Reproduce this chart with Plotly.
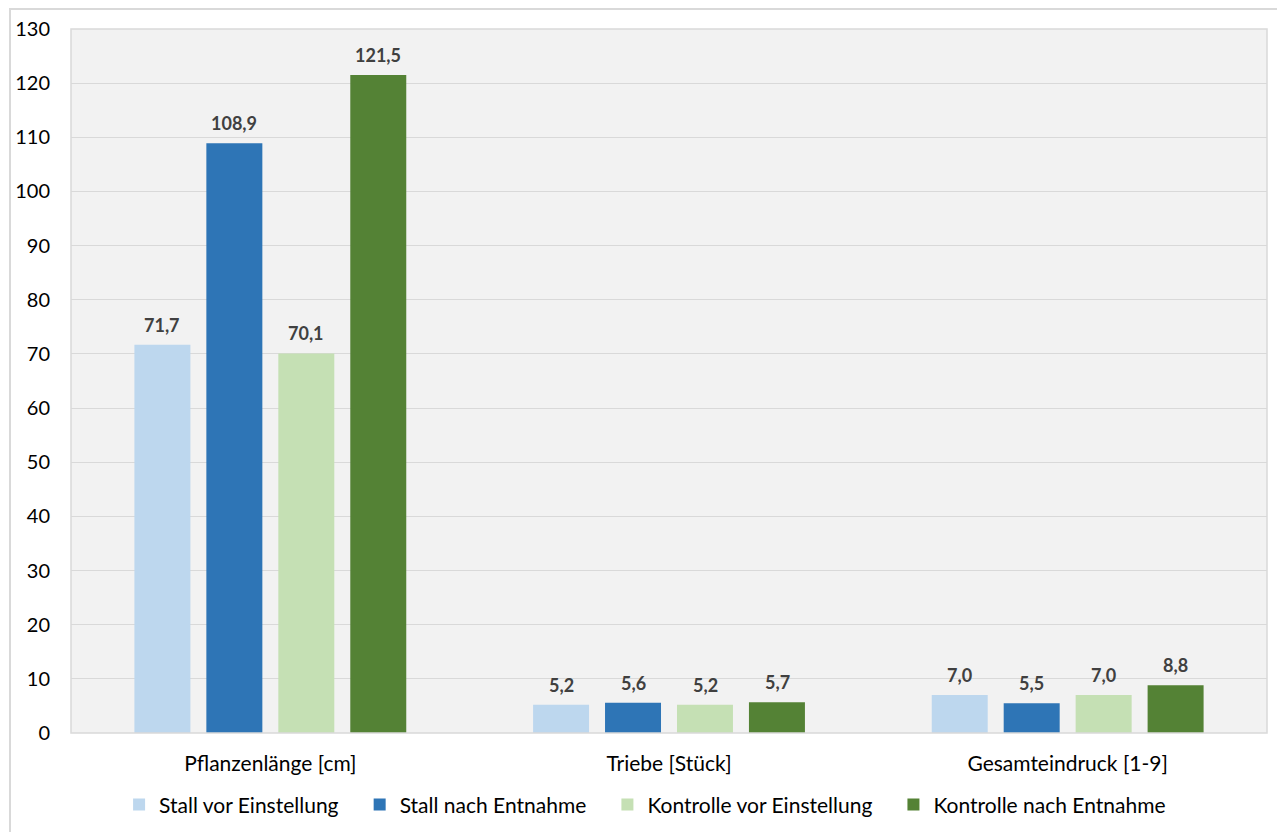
import plotly.graph_objects as go

categories = ["Pflanzenlänge [cm]", "Triebe [Stück]", "Gesamteindruck [1-9]"]
series_names = ["Stall vor Einstellung", "Stall nach Entnahme", "Kontrolle vor Einstellung", "Kontrolle nach Entnahme"]
values = [
    [71.7, 5.2, 7.0],
    [108.9, 5.6, 5.5],
    [70.1, 5.2, 7.0],
    [121.5, 5.7, 8.8],
]
colors = ["#bdd7ee", "#2e75b6", "#c5e0b4", "#548235"]
y_ticks = list(range(0, 131, 10))

PAD = "\u00a0" * 3  # extra spacing between legend entries

fig = go.Figure()
n = len(series_names)
for i, (name, vals, col) in enumerate(zip(series_names, values, colors)):
    fig.add_trace(go.Bar(
        x=categories, y=vals, name=name + (PAD if i < n - 1 else ""),
        marker_color=col, marker_line_width=0, offsetgroup=str(i),
    ))

# data labels via annotations, positioned by the axis scale
for i, vals in enumerate(values):
    for j, (cat, v) in enumerate(zip(categories, vals)):
        fig.add_annotation(
            x=j, y=v, xref="x", yref="y",
            text=f"{v:.1f}".replace(".", ","), showarrow=False,
            xshift=(i - (n - 1) / 2) * 72, yshift=20,
            font=dict(family="Lato", size=18, color="#404040", weight="bold"),
        )

fig.update_layout(
    width=1277, height=824,
    margin=dict(l=63, r=18, t=21, b=99, autoexpand=False),
    paper_bgcolor="white", plot_bgcolor="#f2f2f2",
    barmode="group", bargap=0.278, bargroupgap=0.222,
    font=dict(family="Lato", size=20, color="#000000"),
    showlegend=True,
    legend=dict(orientation="h", x=0.48, xanchor="center", y=-0.073, yanchor="top",
                font=dict(family="Lato", size=21, color="#000000"),
                bgcolor="rgba(0,0,0,0)", traceorder="normal",
                itemwidth=30, tracegroupgap=0),
    xaxis=dict(showgrid=False, ticks="", tickfont=dict(size=21), showline=False,
               automargin=False, ticklabelstandoff=16),
    yaxis=dict(range=[0, 130], tickvals=y_ticks, showgrid=True, gridcolor="#d9d9d9",
               gridwidth=1, zeroline=False, tickfont=dict(size=20), ticks="",
               ticklabelstandoff=20, automargin=False),
    shapes=[
        dict(type="rect", xref="paper", yref="paper", x0=0, x1=1, y0=0, y1=1,
             line=dict(color="#d9d9d9", width=1.5), fillcolor="rgba(0,0,0,0)", layer="above"),
        dict(type="rect", xref="paper", yref="paper", x0=-0.051, x1=1.02, y0=-0.16, y1=1.0284,
             line=dict(color="#d9d9d9", width=2), fillcolor="rgba(0,0,0,0)", layer="below"),
    ],
)

fig.write_html("out.html")
